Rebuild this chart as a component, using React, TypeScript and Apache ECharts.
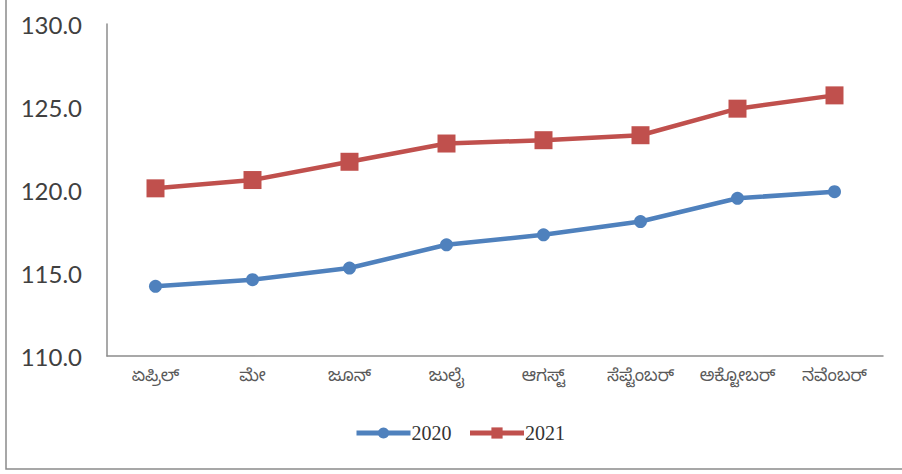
import React, { useEffect, useRef } from "react";
import * as echarts from "echarts";

const categories = ["ಏಪ್ರಿಲ್", "ಮೇ", "ಜೂನ್", "ಜುಲೈ", "ಆಗಸ್ಟ್", "ಸೆಪ್ಟೆಂಬರ್", "ಅಕ್ಟೋಬರ್", "ನವೆಂಬರ್"];
const series2020 = [114.2, 114.6, 115.3, 116.7, 117.3, 118.1, 119.5, 119.9];
const series2021 = [120.1, 120.6, 121.7, 122.8, 123.0, 123.3, 124.9, 125.7];
const seriesNames = ["2020", "2021"];
const yMin = 110;
const yMax = 130;
const yStep = 5;

export default function App() {
  const ref = useRef<HTMLDivElement>(null);
  useEffect(() => {
    if (!ref.current) return;
    const chart = echarts.init(ref.current, undefined, { renderer: "svg" });
    chart.setOption({
      animation: false,
      backgroundColor: "#ffffff",
      grid: { left: 107, right: 19, top: 24, bottom: 118, containLabel: false },
      graphic: [
        {
          type: "rect",
          shape: { x: 6, y: -10, width: 920, height: 479 },
          style: { fill: "none", stroke: "#8a8a8a", lineWidth: 1.5 },
          silent: true,
        },
      ],
      legend: {
        bottom: 26,
        left: 349,
        itemWidth: 54,
        itemHeight: 14,
        itemGap: 16,
        lineStyle: { width: 5 },
        textStyle: { fontFamily: "'Liberation Serif', serif", fontSize: 20, color: "#333333", padding: [0, 0, 0, -4] },
        data: seriesNames,
      },
      xAxis: {
        type: "category",
        data: categories,
        boundaryGap: true,
        axisLine: { lineStyle: { color: "#8c8c8c", width: 1.5 } },
        axisTick: { show: false },
        axisLabel: {
          interval: 0,
          margin: 14,
          color: "#595959",
          fontSize: 17,
          fontFamily: "'Noto Sans Kannada', 'Noto Sans', sans-serif",
        },
      },
      yAxis: {
        type: "value",
        min: yMin,
        max: yMax,
        interval: yStep,
        axisLine: { show: true, lineStyle: { color: "#8c8c8c", width: 1.5 } },
        axisTick: { show: false },
        splitLine: { show: false },
        axisLabel: {
          margin: 25,
          color: "#404040",
          fontSize: 24,
          fontFamily: "Lato, 'Open Sans', sans-serif",
          formatter: (v: number) => v.toFixed(1),
        },
      },
      series: [
        {
          name: seriesNames[0],
          type: "line",
          data: series2020,
          symbol: "circle",
          symbolSize: 13,
          lineStyle: { width: 4.5, color: "#4F81BD" },
          itemStyle: { color: "#4F81BD" },
        },
        {
          name: seriesNames[1],
          type: "line",
          data: series2021,
          symbol: "rect",
          symbolSize: 18,
          lineStyle: { width: 4.5, color: "#C0504D" },
          itemStyle: { color: "#C0504D" },
        },
      ],
    });
    return () => chart.dispose();
  }, []);
  return (
    <div
      ref={ref}
      style={{ position: "fixed", left: 0, top: 0, width: 902, height: 474, background: "#fff" }}
    />
  );
}
